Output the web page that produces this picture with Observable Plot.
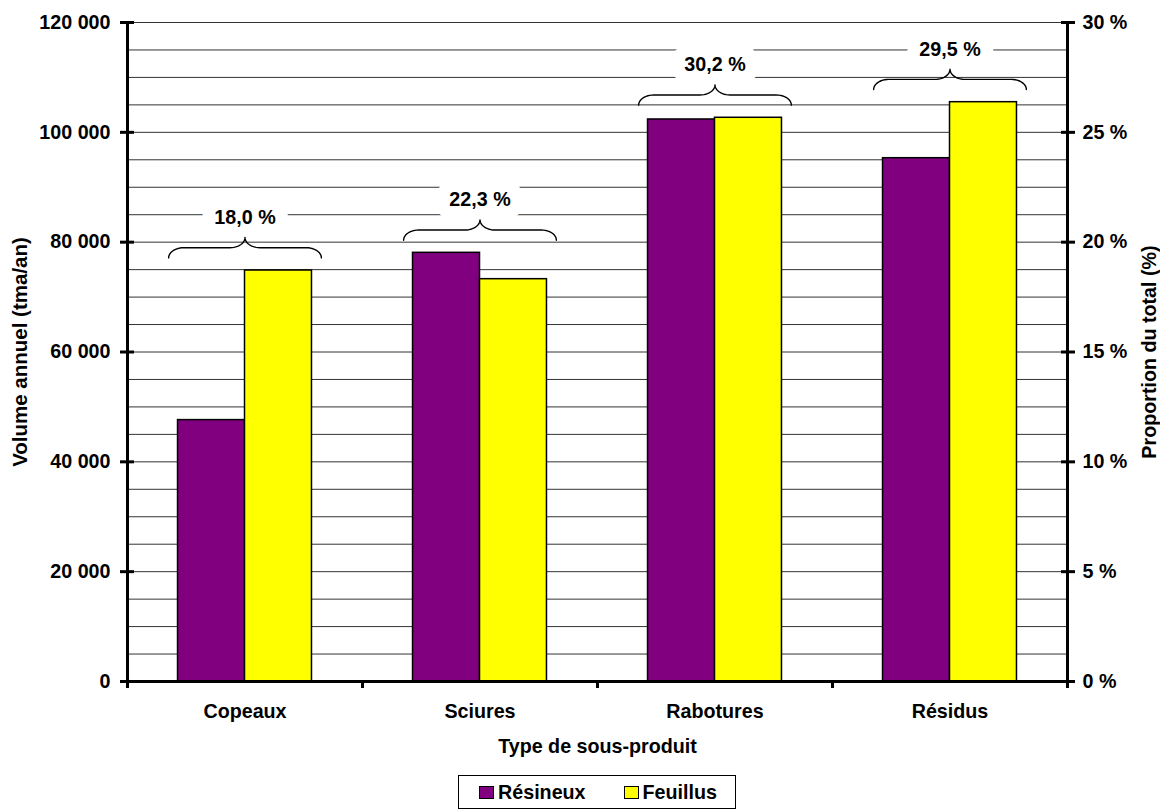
<!DOCTYPE html>
<html>
<head>
<meta charset="utf-8">
<script src="https://cdn.jsdelivr.net/npm/d3@7"></script>
<script src="https://cdn.jsdelivr.net/npm/@observablehq/plot@0.6"></script>
<style>
  body { margin: 0; background: #fff; font-family: "Liberation Sans", Arial, sans-serif; font-weight: bold; color: #000; }
  #legend-wrap { margin-left: 127px; width: 940px; display: flex; justify-content: center; margin-top: 5px; }
  .legend { display: flex; align-items: center; border: 1px solid #000; height: 32px; padding: 0 18px 0 20px; font-size: 19.7px; }
  .item { display: flex; align-items: center; }
  .sw { width: 13px; height: 11px; border: 1px solid #000; margin-right: 4px; }
</style>
</head>
<body>
<div id="chart"></div>
<div id="legend-wrap"></div>
<script>
// ---- data ----
const categories = ["Copeaux", "Sciures", "Rabotures", "Résidus"];
const series = ["Résineux", "Feuillus"];
const resineux = [47600, 78060, 102340, 95290];
const feuillus = [74840, 73260, 102650, 105490];
const shares = [18.0, 22.3, 30.2, 29.5];
const leftTicks = [0, 20000, 40000, 60000, 80000, 100000, 120000];
const gridValues = d3.range(5000, 120001, 5000);
const seriesColors = ["#800080", "#FFFF00"];
const xTitle = "Type de sous-produit";
const yTitle = "Volume annuel (tma/an)";
const y2Title = "Proportion du total (%)";

// ---- layout parameters ----
const barW = 0.285;            // bar width as a fraction of a category slot
const gap = 2300, ry = 1850, rx = 0.064, hw = 0.325, labelGap = 3600;
const fs = 19.7;

const locale = d3.formatLocale({decimal: ",", thousands: " ", grouping: [3], currency: ["", ""]});
const fmtInt = locale.format(",");
const fmtPct = d => d.toFixed(1).replace(".", ",") + " %";

const bars = categories.flatMap((c, i) => [
  {category: c, series: series[0], value: resineux[i], x1: i + 0.5 - barW, x2: i + 0.5},
  {category: c, series: series[1], value: feuillus[i], x1: i + 0.5, x2: i + 0.5 + barW}
]);

// curly braces above each group
const n = 12;
const braces = categories.flatMap((c, i) => {
  const cx = i + 0.5, yb = Math.max(resineux[i], feuillus[i]) + gap;
  const pts = [];
  for (let k = 0; k <= n; k++) { const t = k / n * Math.PI / 2; pts.push({c, x: cx - hw + rx - rx * Math.cos(t), y: yb + ry * Math.sin(t)}); }
  for (let k = 0; k <= n; k++) { const t = k / n * Math.PI / 2; pts.push({c, x: cx - rx + rx * Math.sin(t), y: yb + 2 * ry - ry * Math.cos(t)}); }
  for (let k = n; k >= 0; k--) { const t = k / n * Math.PI / 2; pts.push({c, x: cx + rx - rx * Math.sin(t), y: yb + 2 * ry - ry * Math.cos(t)}); }
  for (let k = n; k >= 0; k--) { const t = k / n * Math.PI / 2; pts.push({c, x: cx + hw - rx + rx * Math.cos(t), y: yb + ry * Math.sin(t)}); }
  return pts;
});
const labels = categories.map((c, i) => ({
  x: i + 0.5,
  y: Math.max(resineux[i], feuillus[i]) + gap + 2 * ry + labelGap,
  text: fmtPct(shares[i])
}));

const chart = Plot.plot({
  width: 1160,
  height: 770,
  marginTop: 22,
  marginBottom: 89,
  marginLeft: 127,
  marginRight: 93,
  style: {fontFamily: '"Liberation Sans", Arial, sans-serif', fontSize: fs + "px", fontWeight: "bold", color: "#000", background: "#fff", overflow: "visible"},
  x: {domain: [0, categories.length], axis: null, label: null},
  y: {domain: [0, 120000], axis: null, label: null},
  color: {domain: series, range: seriesColors},
  marks: [
    Plot.ruleY(gridValues, {stroke: "#333", strokeWidth: 1}),
    Plot.rectY(bars, {x1: "x1", x2: "x2", y1: 0, y2: "value", fill: "series", stroke: "#000", strokeWidth: 1.5}),
    Plot.text(labels, {x: "x", y: "y", text: "text", fill: "#000", stroke: "white", strokeWidth: 26, paintOrder: "stroke", strokeLinejoin: "round", fontSize: fs, fontWeight: "bold"}),
    Plot.line(braces, {x: "x", y: "y", z: "c", stroke: "#000", strokeWidth: 1.4, curve: "linear"}),
    Plot.ruleX([0, categories.length], {stroke: "#000", strokeWidth: 3}),
    Plot.ruleY([0], {stroke: "#000", strokeWidth: 3}),
    Plot.axisY(leftTicks, {anchor: "left", tickSize: 14, dx: 7, tickPadding: 10, tickFormat: fmtInt, strokeWidth: 3, label: null}),
    Plot.axisY(leftTicks, {anchor: "right", tickSize: 14, dx: -7, tickPadding: 8, tickFormat: d => `${Math.round(d / 120000 * 30)} %`, strokeWidth: 3, label: null}),
    Plot.axisX(d3.range(0, categories.length + 1), {anchor: "bottom", tickSize: 7, tickFormat: () => "", strokeWidth: 3, label: null}),
    Plot.axisX(categories.map((c, i) => i + 0.5), {anchor: "bottom", tickSize: 0, tickPadding: 22, tickFormat: d => categories[Math.floor(d)], label: null}),
    Plot.text([xTitle], {frameAnchor: "bottom", lineAnchor: "middle", dy: 65, fontSize: fs, fontWeight: "bold"}),
    Plot.text([yTitle], {frameAnchor: "left", textAnchor: "middle", lineAnchor: "middle", rotate: -90, dx: -107, fontSize: 20.5, fontWeight: "bold"}),
    Plot.text([y2Title], {frameAnchor: "right", textAnchor: "middle", lineAnchor: "middle", rotate: -90, dx: 82, fontSize: fs, fontWeight: "bold"})
  ]
});
document.getElementById("chart").appendChild(chart);

// legend
const legend = document.createElement("div");
legend.className = "legend";
series.forEach((s, i) => {
  const item = document.createElement("div");
  item.className = "item";
  if (i > 0) item.style.marginLeft = "38px";
  const sw = document.createElement("div");
  sw.className = "sw";
  sw.style.background = seriesColors[i];
  const t = document.createElement("span");
  t.textContent = s;
  item.appendChild(sw);
  item.appendChild(t);
  legend.appendChild(item);
});
document.getElementById("legend-wrap").appendChild(legend);
</script>
</body>
</html>
